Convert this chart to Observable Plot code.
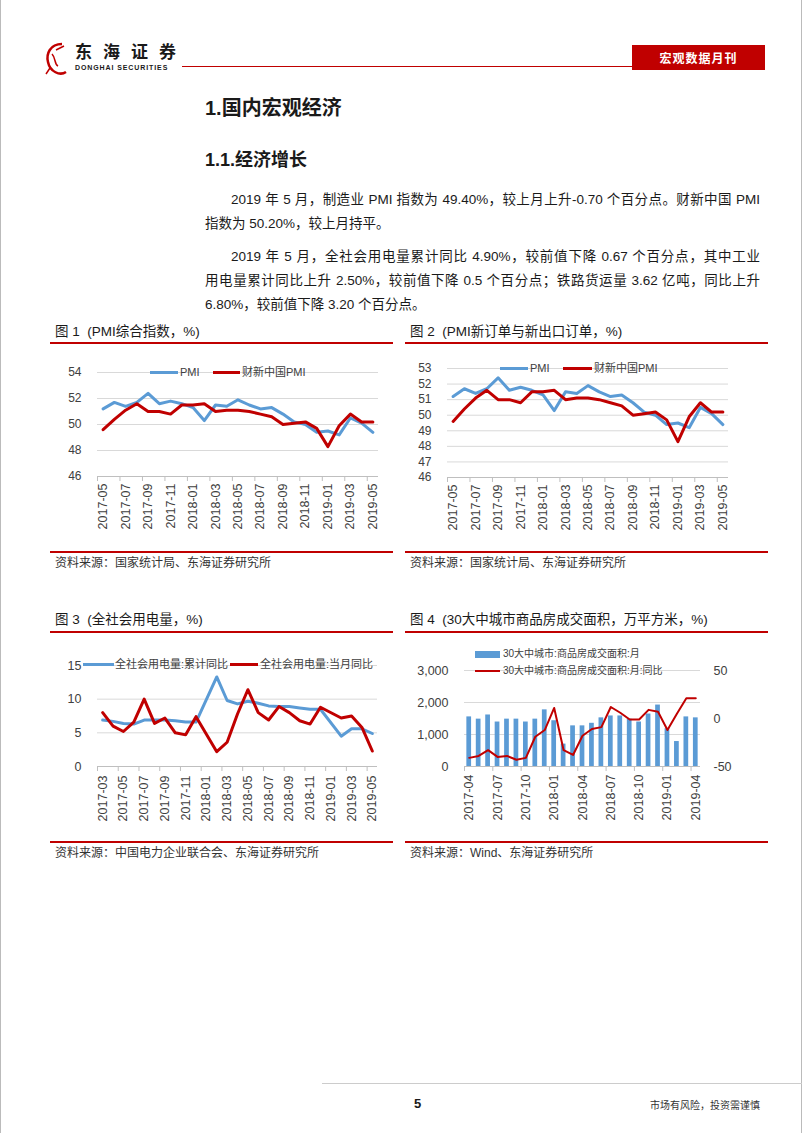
<!DOCTYPE html>
<html><head><meta charset="utf-8">
<script src="https://cdn.jsdelivr.net/npm/d3@7"></script>
<script src="https://cdn.jsdelivr.net/npm/@observablehq/plot@0.6"></script>
<style>
html,body{margin:0;padding:0;background:#fff;}
#page{position:relative;width:802px;height:1133px;overflow:hidden;font-family:"Liberation Sans","Noto Sans CJK SC",sans-serif;color:#1a1a1a;}
.a{position:absolute;white-space:nowrap;}
.pl{position:absolute;left:205px;width:555px;font-size:13.5px;line-height:20px;white-space:nowrap;}
.j{text-align:justify;text-align-last:justify;}
.rl{position:absolute;height:2px;background:#C00000;}
.ft{position:absolute;font-size:13.5px;line-height:18px;color:#1a1a1a;white-space:nowrap;}
.src{position:absolute;font-size:12px;line-height:16px;color:#333;white-space:nowrap;}
.lg{position:absolute;font-size:11px;line-height:14px;color:#404040;white-space:nowrap;}
</style></head>
<body><div id="page">
  <div class="a" style="left:0;top:0;width:1px;height:1133px;background:#bbb"></div>
  <div class="a" style="left:801px;top:0;width:1px;height:1133px;background:#bbb"></div>
  <svg class="a" style="left:42px;top:40px" width="30" height="40" viewBox="0 0 30 40">
    <path d="M20 4 C8 4 4 14 6 22 C8 32 18 36 24 32" fill="none" stroke="#C00000" stroke-width="2.5"/>
    <path d="M10 14 C14 18 12 24 16 26 M14 10 L22 6 M8 28 L4 34" fill="none" stroke="#C00000" stroke-width="1.5"/>
  </svg>
  <div class="a" style="left:75px;top:41px;font-size:17px;line-height:20px;font-weight:bold;letter-spacing:11px;font-family:'Noto Sans CJK SC'">东海证券</div>
  <div class="a" style="left:75px;top:64px;font-size:7px;line-height:8px;font-weight:bold;letter-spacing:0.9px">DONGHAI SECURITIES</div>
  <div class="a" style="left:182px;top:66px;width:450px;height:1px;background:#C00000"></div>
  <div class="a" style="left:632px;top:45px;width:133px;height:25px;background:#C00000;color:#fff;font-size:12px;line-height:25px;text-align:center;font-weight:bold;letter-spacing:1px;font-family:'Noto Sans CJK SC'">宏观数据月刊</div>

  <div class="a" style="left:205px;top:96px;font-size:20px;line-height:24px;font-weight:bold">1.国内宏观经济</div>
  <div class="a" style="left:205px;top:149px;font-size:18px;line-height:22px;font-weight:bold">1.1.经济增长</div>

  <div class="pl j" style="top:190px;padding-left:26px;width:529px">2019 年 5 月，制造业 PMI 指数为 49.40%，较上月上升-0.70 个百分点。财新中国 PMI</div>
  <div class="pl" style="top:214px">指数为 50.20%，较上月持平。</div>
  <div class="pl j" style="top:247px;padding-left:26px;width:529px">2019 年 5 月，全社会用电量累计同比 4.90%，较前值下降 0.67 个百分点，其中工业</div>
  <div class="pl j" style="top:271px">用电量累计同比上升 2.50%，较前值下降 0.5 个百分点；铁路货运量 3.62 亿吨，同比上升</div>
  <div class="pl" style="top:295px">6.80%，较前值下降 3.20 个百分点。</div>

  <div class="ft" style="left:55px;top:323px">图 1&nbsp;&nbsp;(PMI综合指数，%)</div>
  <div class="ft" style="left:410px;top:323px">图 2&nbsp;&nbsp;(PMI新订单与新出口订单，%)</div>
  <div class="rl" style="left:50px;top:342px;width:343px"></div>
  <div class="rl" style="left:405px;top:342px;width:363px"></div>
  <div class="rl" style="left:50px;top:551px;width:343px"></div>
  <div class="rl" style="left:405px;top:551px;width:363px"></div>
  <div class="src" style="left:55px;top:555px">资料来源：国家统计局、东海证券研究所</div>
  <div class="src" style="left:410px;top:555px">资料来源：国家统计局、东海证券研究所</div>

  <div class="ft" style="left:55px;top:611px">图 3&nbsp;&nbsp;(全社会用电量，%)</div>
  <div class="ft" style="left:410px;top:611px">图 4&nbsp;&nbsp;(30大中城市商品房成交面积，万平方米，%)</div>
  <div class="rl" style="left:50px;top:631px;width:343px"></div>
  <div class="rl" style="left:405px;top:631px;width:363px"></div>
  <div class="rl" style="left:50px;top:841px;width:343px"></div>
  <div class="rl" style="left:405px;top:841px;width:363px"></div>
  <div class="src" style="left:55px;top:845px">资料来源：中国电力企业联合会、东海证券研究所</div>
  <div class="src" style="left:410px;top:845px">资料来源：Wind、东海证券研究所</div>

  <div class="a" style="left:322px;top:1083px;width:480px;height:1px;background:#ccc"></div>
  <div class="a" style="left:414px;top:1096px;font-size:13px;line-height:16px;font-weight:bold">5</div>
  <div class="a" style="left:650px;top:1098px;font-size:10px;line-height:14px;color:#333;font-family:'Noto Sans CJK SC'">市场有风险，投资需谨慎</div>
</div>
<script>
// ---------- data ----------
const pmiMonths = ["2017-05","2017-06","2017-07","2017-08","2017-09","2017-10","2017-11","2017-12",
  "2018-01","2018-02","2018-03","2018-04","2018-05","2018-06","2018-07","2018-08","2018-09","2018-10","2018-11","2018-12",
  "2019-01","2019-02","2019-03","2019-04","2019-05"];
const pmiOfficial = [51.2,51.7,51.4,51.7,52.4,51.6,51.8,51.6,51.3,50.3,51.5,51.4,51.9,51.5,51.2,51.3,50.8,50.2,50.0,49.4,49.5,49.2,50.5,50.1,49.4];
const pmiCaixin   = [49.6,50.4,51.1,51.6,51.0,51.0,50.8,51.5,51.5,51.6,51.0,51.1,51.1,51.0,50.8,50.6,50.0,50.1,50.2,49.7,48.3,49.9,50.8,50.2,50.2];
const pmiTicks1 = [46,48,50,52,54];
const pmiTicks2 = [46,47,48,49,50,51,52,53];

const elecMonths = ["2017-03","2017-04","2017-05","2017-06","2017-07","2017-08","2017-09","2017-10","2017-11","2017-12",
  "2018-01","2018-02","2018-03","2018-04","2018-05","2018-06","2018-07","2018-08","2018-09","2018-10","2018-11","2018-12",
  "2019-01","2019-02","2019-03","2019-04","2019-05"];
const elecCumYoY = [6.9,6.7,6.4,6.3,6.9,6.9,6.9,6.8,6.6,6.6,null,13.3,9.8,9.3,9.7,9.4,9.0,8.9,8.9,8.7,8.5,8.5,null,4.5,5.6,5.6,4.9];
const elecMonYoY = [8.0,6.0,5.2,6.6,10.0,6.4,7.2,5.0,4.7,7.4,null,2.2,3.6,7.8,11.4,8.0,6.9,8.9,8.0,6.8,6.3,8.8,null,7.2,7.5,5.8,2.3];
const elecTicks = [0,5,10,15];

const houseMonths = ["2017-04","2017-05","2017-06","2017-07","2017-08","2017-09","2017-10","2017-11","2017-12",
  "2018-01","2018-02","2018-03","2018-04","2018-05","2018-06","2018-07","2018-08","2018-09","2018-10","2018-11","2018-12",
  "2019-01","2019-02","2019-03","2019-04"];
const houseArea = [1550,1480,1610,1390,1480,1480,1390,1480,1770,1430,700,1270,1270,1350,1520,1580,1580,1480,1390,1640,1920,1180,780,1550,1520];
const houseYoY  = [-41,-39,-33,-40,-39,-43,-41,-19,-12,11,-33,-38,-18,-11,-9,12,6,-1,-1,9,7,-12,5,21,21];
const houseLeftTicks = [0,1000,2000,3000];
const houseRightTicks = [-50,0,50];

const BLUE = "#5B9BD5", RED = "#C00000";
const page = document.getElementById("page");

function series(values){ return values.map((v,i)=>({i, v})).filter(d => d.v != null); }

function drawChart(cfg){
  const mL = 45, mT = 12;
  const n = cfg.labels.length;
  const width = mL + (cfg.plotRight - cfg.plotLeft) + cfg.mR;
  const height = mT + (cfg.plotBottom - cfg.plotTop) + cfg.mB;
  const marks = [
    Plot.gridY(cfg.grid, {stroke:"#d9d9d9", strokeOpacity:1}),
    Plot.ruleY([cfg.yDomain[0]], {stroke:"#bfbfbf"}),
    Plot.axisX(d3.range(-0.5, n, cfg.step), {tickSize:5, tickFormat:()=>"", stroke:"#bfbfbf", label:null}),
    Plot.axisX(d3.range(0, n, cfg.step), {tickSize:0, tickPadding:cfg.xPad, tickRotate:-90,
      tickFormat:i=>cfg.labels[i], fontSize:cfg.xFont, label:null}),
    Plot.axisY(cfg.yTicks, {tickSize:0, tickPadding:16, tickFormat:cfg.yFmt, fontSize:cfg.yFont, label:null}),
    ...cfg.marks
  ];
  const svg = Plot.plot({
    width, height, marginLeft:mL, marginRight:cfg.mR, marginTop:mT, marginBottom:cfg.mB,
    x:{domain:[-0.5, n-0.5], axis:null},
    y:{domain:cfg.yDomain, axis:null},
    style:{fontFamily:"Liberation Sans, Noto Sans CJK SC, sans-serif", color:"#404040", background:"transparent", overflow:"visible"},
    marks
  });
  const holder = document.createElement("div");
  holder.style.cssText = `position:absolute;left:${cfg.plotLeft-mL}px;top:${cfg.plotTop-mT}px;`;
  holder.appendChild(svg);
  page.appendChild(holder);
}

function legendLine(x1, x2, y, color, h){
  const d = document.createElement("div");
  d.style.cssText = `position:absolute;left:${x1}px;top:${y-h/2}px;width:${x2-x1}px;height:${h}px;background:${color};`;
  page.appendChild(d);
}
function legendText(x, y, text, size){
  const d = document.createElement("div");
  d.className = "lg";
  if (size) d.style.fontSize = size + "px";
  d.style.left = x + "px"; d.style.top = (y-7) + "px";
  d.textContent = text;
  page.appendChild(d);
}
const lineOpts = (c, w) => ({x:"i", y:"v", stroke:c, strokeWidth:w, strokeLinejoin:"round", strokeLinecap:"round"});

// Chart 1
drawChart({labels:pmiMonths, step:2, plotLeft:97, plotRight:378, plotTop:372, plotBottom:476, mR:8, mB:62,
  yDomain:[46,54], yTicks:pmiTicks1, grid:pmiTicks1.slice(1), yFont:12, xFont:12.5, xPad:7,
  marks:[Plot.line(series(pmiOfficial), lineOpts(BLUE,3)), Plot.line(series(pmiCaixin), lineOpts(RED,3))]});
legendLine(150,178,372,BLUE,3); legendText(180,372,"PMI");
legendLine(213,240,372,RED,3); legendText(242,372,"财新中国PMI");

// Chart 2
drawChart({labels:pmiMonths, step:2, plotLeft:447, plotRight:728, plotTop:368, plotBottom:477, mR:8, mB:62,
  yDomain:[46,53], yTicks:pmiTicks2, grid:pmiTicks2.slice(1), yFont:12, xFont:12.5, xPad:7,
  marks:[Plot.line(series(pmiOfficial), lineOpts(BLUE,3)), Plot.line(series(pmiCaixin), lineOpts(RED,3))]});
legendLine(500,528,368,BLUE,3); legendText(530,368,"PMI");
legendLine(563,592,368,RED,3); legendText(594,368,"财新中国PMI");

// Chart 3
drawChart({labels:elecMonths, step:2, plotLeft:97, plotRight:377, plotTop:665, plotBottom:766, mR:8, mB:66,
  yDomain:[0,15], yTicks:elecTicks, grid:elecTicks.slice(1), yFont:12.5, xFont:12.5, xPad:9,
  marks:[Plot.line(series(elecCumYoY), lineOpts(BLUE,3)), Plot.line(series(elecMonYoY), lineOpts(RED,3))]});
legendLine(83,114,664,BLUE,3); legendText(115,664,"全社会用电量:累计同比");
legendLine(230,258,664,RED,3); legendText(260,664,"全社会用电量:当月同比");

// Chart 4 (dual axis: right axis mapped onto left scale)
const toLeft = v => (v + 50) * 30;
drawChart({labels:houseMonths, step:3, plotLeft:464, plotRight:700, plotTop:670, plotBottom:766, mR:45, mB:66,
  yDomain:[0,3000], yTicks:houseLeftTicks, grid:houseLeftTicks.slice(1), yFmt:d3.format(","), yFont:12.5, xFont:12.5, xPad:8,
  marks:[
    Plot.rectY(series(houseArea), {x1:d=>d.i-0.25, x2:d=>d.i+0.25, y:"v", fill:BLUE}),
    Plot.line(series(houseYoY), {x:"i", y:d=>toLeft(d.v), stroke:RED, strokeWidth:2, strokeLinejoin:"round"}),
    Plot.axisY(houseRightTicks.map(toLeft), {anchor:"right", tickSize:0, tickPadding:13,
      tickFormat:d=>String(d/30-50), fontSize:12.5, label:null})
  ]});
const lb = document.createElement("div");
lb.style.cssText = "position:absolute;left:475px;top:651px;width:25px;height:7px;background:"+BLUE;
page.appendChild(lb);
legendText(503,654,"30大中城市:商品房成交面积:月",10);
legendLine(475,500,671,RED,2); legendText(503,671,"30大中城市:商品房成交面积:月:同比",10);
</script>
</body></html>
